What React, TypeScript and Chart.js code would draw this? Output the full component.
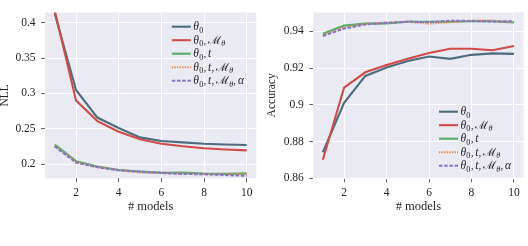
import React, { useEffect, useRef } from "react";
import { Chart, registerables } from "chart.js";
Chart.register(...registerables);

// ---------- data ----------
const models = [1, 2, 3, 4, 5, 6, 7, 8, 9, 10];
const xTicks = [2, 4, 6, 8, 10];
const legendLabels = ["θ_0", "θ_0,ℳ_θ", "θ_0,t", "θ_0,t,ℳ_θ", "θ_0,t,ℳ_θ,α"];

const nllTicks = [0.2, 0.25, 0.3, 0.35, 0.4];
const nllTheta0 = [0.413, 0.305, 0.266, 0.2513, 0.238, 0.233, 0.231, 0.229, 0.228, 0.2272];
const nllTheta0M = [0.417, 0.29, 0.261, 0.246, 0.2355, 0.229, 0.2255, 0.2228, 0.221, 0.2197];
const nllTheta0T = [0.228, 0.2045, 0.197, 0.192, 0.19, 0.188, 0.1885, 0.187, 0.1865, 0.1873];
const nllTheta0TM = [0.226, 0.203, 0.196, 0.192, 0.1885, 0.1878, 0.187, 0.186, 0.186, 0.186];
const nllTheta0TMA = [0.2253, 0.2025, 0.196, 0.1915, 0.1895, 0.188, 0.1865, 0.186, 0.185, 0.1837];

const accTicks = [0.86, 0.88, 0.9, 0.92, 0.94];
const accTheta0 = [0.8742, 0.9011, 0.9157, 0.9203, 0.9239, 0.9263, 0.925, 0.9272, 0.928, 0.9277];
const accTheta0M = [0.8701, 0.9094, 0.9177, 0.9217, 0.9251, 0.9282, 0.9305, 0.9305, 0.9297, 0.932];
const accTheta0T = [0.9387, 0.9431, 0.9442, 0.9443, 0.9452, 0.9452, 0.9452, 0.9455, 0.9455, 0.9448];
const accTheta0TM = [0.9378, 0.942, 0.944, 0.9448, 0.9452, 0.9442, 0.945, 0.9458, 0.9458, 0.945];
const accTheta0TMA = [0.9375, 0.9415, 0.9437, 0.9446, 0.9452, 0.945, 0.9458, 0.9456, 0.9453, 0.9455];

// ---------- style ----------
const colors = ["#4b6d7c", "#d14a4a", "#5aab69", "#e8874f", "#8474c6"];
const dashes = [[], [], [], [1.3, 1.3], [3.5, 1.7]];
const FONT = '"Liberation Serif", "Times New Roman", serif';
const TEXT = "#262626";

function drawMath(ctx: CanvasRenderingContext2D, label: string, x: number, y: number) {
  let cx = x;
  const chars = Array.from(label);
  ctx.fillStyle = TEXT;
  ctx.textBaseline = "alphabetic";
  ctx.textAlign = "left";
  for (let i = 0; i < chars.length; i++) {
    const ch = chars[i];
    if (ch === "_") {
      const s = chars[++i];
      ctx.font = (s === "0" ? "" : "italic ") + "8px " + FONT;
      ctx.fillText(s, cx, y + 6);
      cx += ctx.measureText(s).width + 0.3;
      continue;
    }
    if (ch === ",") {
      ctx.font = "11px " + FONT;
      ctx.fillText(",", cx, y + 3.5);
      cx += ctx.measureText(",").width + 1.8;
      continue;
    }
    const italic = ch !== "ℳ";
    ctx.font = (italic ? "italic " : "") + "11.5px " + FONT;
    ctx.fillText(ch, cx, y + 3.5);
    cx += ctx.measureText(ch).width + 0.2;
  }
}

const bgPlugin = {
  id: "bgArea",
  beforeDraw(chart: any) {
    const { ctx, chartArea: a } = chart;
    ctx.save();
    ctx.fillStyle = "#EAEAF2";
    ctx.fillRect(a.left, a.top, a.right - a.left, a.bottom - a.top);
    ctx.restore();
  },
};

function legendPlugin(anchor: "top" | "bottom") {
  return {
    id: "mathLegend",
    afterDatasetsDraw(chart: any) {
      const { ctx, chartArea: a } = chart;
      const step = 13.5;
      const n = chart.data.datasets.length;
      ctx.save();
      chart.data.datasets.forEach((ds: any, i: number) => {
        const y = anchor === "top" ? a.top + 14.3 + i * step : a.bottom - 12.6 - (n - 1 - i) * step;
        const x0 = a.right - 84.5;
        ctx.beginPath();
        ctx.strokeStyle = ds.borderColor;
        ctx.lineWidth = ds.borderWidth;
        ctx.setLineDash(ds.borderDash || []);
        ctx.moveTo(x0, y);
        ctx.lineTo(x0 + 19, y);
        ctx.stroke();
        ctx.setLineDash([]);
        drawMath(ctx, legendLabels[i], x0 + 21.5, y);
      });
      ctx.restore();
    },
  };
}

function makeDatasets(series: number[][]) {
  return series.map((vals, i) => ({
    label: legendLabels[i],
    data: models.map((m, j) => ({ x: m, y: vals[j] })),
    borderColor: colors[i],
    backgroundColor: colors[i],
    borderWidth: 2.1,
    borderDash: dashes[i],
    pointRadius: 0,
    tension: 0,
    order: series.length - 1 - i,
  }));
}

function makeConfig(opts: {
  series: number[][];
  yTicks: number[];
  yMin: number;
  yMax: number;
  yTitle: string;
  yWidth: number;
  titlePad: number;
  padTop: number;
  padRight: number;
  legend: "top" | "bottom";
}): any {
  const grid = { color: "#ffffff", lineWidth: 1, tickColor: "#666666", tickLength: 4, drawTicks: true };
  return {
    type: "line",
    data: { datasets: makeDatasets(opts.series) },
    plugins: [bgPlugin, legendPlugin(opts.legend)],
    options: {
      animation: false,
      responsive: false,
      events: [],
      layout: { padding: { top: opts.padTop, right: opts.padRight, left: 0, bottom: 0 } },
      plugins: { legend: { display: false }, tooltip: { enabled: false } },
      scales: {
        x: {
          type: "linear",
          min: 0.55,
          max: 10.45,
          afterBuildTicks: (s: any) => {
            s.ticks = xTicks.map((v) => ({ value: v }));
          },
          afterFit: (s: any) => {
            s.height = 67.7;
          },
          grid,
          border: { display: false },
          ticks: {
            font: { family: FONT, size: 11.5 },
            color: TEXT,
            padding: 3.5,
            maxRotation: 0,
            autoSkip: false,
            callback: (v: any) => String(v),
          },
          title: {
            display: true,
            text: "# models",
            font: { family: FONT, size: 12.5, lineHeight: 1.2 },
            color: TEXT,
            padding: { top: 0, bottom: 31.8 },
          },
        },
        y: {
          type: "linear",
          min: opts.yMin,
          max: opts.yMax,
          afterBuildTicks: (s: any) => {
            s.ticks = opts.yTicks.map((v) => ({ value: v }));
          },
          afterFit: (s: any) => {
            s.width = opts.yWidth;
          },
          grid,
          border: { display: false },
          ticks: {
            font: { family: FONT, size: 11.5 },
            color: TEXT,
            padding: 5.5,
            autoSkip: false,
            callback: (v: any) => String(Number(v)),
          },
          title: {
            display: true,
            text: opts.yTitle,
            font: { family: FONT, size: 11.5, lineHeight: 1 },
            color: TEXT,
            padding: { top: opts.titlePad, bottom: 0 },
          },
        },
      },
    },
  };
}

export default function App() {
  const leftRef = useRef<HTMLCanvasElement>(null);
  const rightRef = useRef<HTMLCanvasElement>(null);

  useEffect(() => {
    const c1 = new Chart(
      leftRef.current!,
      makeConfig({
        series: [nllTheta0, nllTheta0M, nllTheta0T, nllTheta0TM, nllTheta0TMA],
        yTicks: nllTicks,
        yMin: 0.1803,
        yMax: 0.4144,
        yTitle: "NLL",
        yWidth: 45.1,
        titlePad: -0.8,
        padTop: 0,
        padRight: 7.7,
        legend: "top",
      })
    );
    const c2 = new Chart(
      rightRef.current!,
      makeConfig({
        series: [accTheta0, accTheta0M, accTheta0T, accTheta0TM, accTheta0TMA],
        yTicks: accTicks,
        yMin: 0.86,
        yMax: 0.9503,
        yTitle: "Accuracy",
        yWidth: 49.3,
        titlePad: 1.8,
        padTop: 2.7,
        padRight: 4.5,
        legend: "bottom",
      })
    );
    return () => {
      c1.destroy();
      c2.destroy();
    };
  }, []);

  return (
    <div style={{ position: "fixed", left: 0, top: 0, width: 528, height: 246, background: "#ffffff" }}>
      <div style={{ position: "absolute", left: 0, top: 0, width: 264, height: 246 }}>
        <canvas ref={leftRef} width={264} height={246} style={{ width: 264, height: 246, display: "block" }} />
      </div>
      <div style={{ position: "absolute", left: 264, top: 0, width: 264, height: 246 }}>
        <canvas ref={rightRef} width={264} height={246} style={{ width: 264, height: 246, display: "block" }} />
      </div>
    </div>
  );
}
